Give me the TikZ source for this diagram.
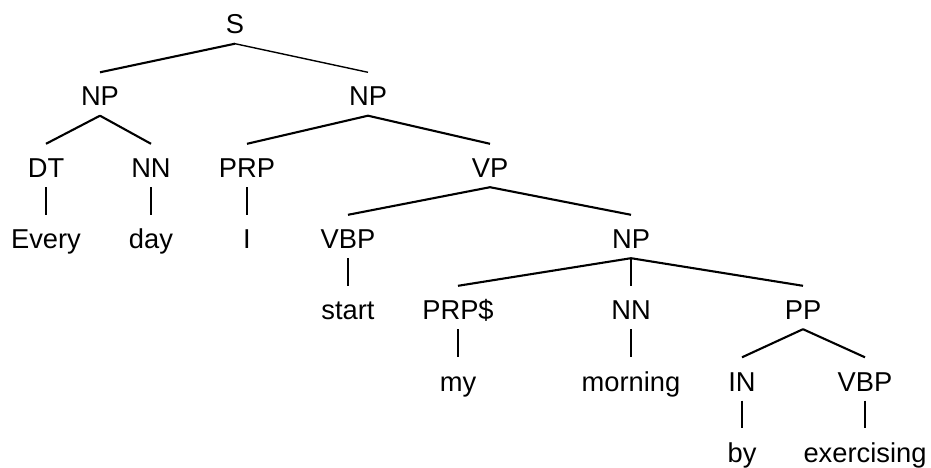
\documentclass[tikz,border=0pt]{standalone}
\usepackage{fontspec}
\setmainfont{Liberation Sans}
\begin{document}
\begin{tikzpicture}[x=1pt,y=1pt,
  tnode/.style={inner sep=0pt, text height=33.5pt, text depth=9.5pt, anchor=base,
    font=\fontsize{27.3}{30}\selectfont},
  edge/.style={line width=2.1pt, line cap=butt},
  thinedge/.style={line width=1.4pt, line cap=butt}]
\useasboundingbox (0,0) rectangle (931,-468);
% row baselines
\def\ra{-34}\def\rb{-106}\def\rc{-177.5}\def\rd{-248.5}\def\re{-319.5}\def\rf{-391}\def\rg{-462}
\node[tnode] (S) at (235,\ra) {S};
\node[tnode] (NPa) at (100,\rb) {NP};
\node[tnode] (NPb) at (368,\rb) {NP};
\node[tnode] (DT) at (46,\rc) {DT};
\node[tnode] (NNa) at (151,\rc) {NN};
\node[tnode] (PRP) at (247,\rc) {PRP};
\node[tnode] (VP) at (490,\rc) {VP};
\node[tnode] (Every) at (46,\rd) {Every};
\node[tnode] (day) at (151,\rd) {day};
\node[tnode] (I) at (247,\rd) {I};
\node[tnode] (VBPa) at (348,\rd) {VBP};
\node[tnode] (NPc) at (631,\rd) {NP};
\node[tnode] (start) at (348,\re) {start};
\node[tnode] (PRPS) at (458,\re) {PRP\$};
\node[tnode] (NNb) at (631,\re) {NN};
\node[tnode] (PP) at (803,\re) {PP};
\node[tnode] (my) at (458,\rf) {my};
\node[tnode] (morning) at (631,\rf) {morning};
\node[tnode] (IN) at (742,\rf) {IN};
\node[tnode] (VBPb) at (865,\rf) {VBP};
\node[tnode] (by) at (742,\rg) {by};
\node[tnode] (exercising) at (865,\rg) {exercising};
\draw[edge] (S.south) -- (NPa.north);
\draw[thinedge] (S.south) -- (NPb.north);
\draw[edge] (NPa.south) -- (DT.north);
\draw[edge] (NPa.south) -- (NNa.north);
\draw[edge] (NPb.south) -- (PRP.north);
\draw[edge] (NPb.south) -- (VP.north);
\draw[thinedge] (DT.south) -- (Every.north);
\draw[thinedge] (NNa.south) -- (day.north);
\draw[thinedge] (PRP.south) -- (I.north);
\draw[edge] (VP.south) -- (VBPa.north);
\draw[edge] (VP.south) -- (NPc.north);
\draw[thinedge] (VBPa.south) -- (start.north);
\draw[edge] (NPc.south) -- (PRPS.north);
\draw[thinedge] (NPc.south) -- (NNb.north);
\draw[edge] (NPc.south) -- (PP.north);
\draw[thinedge] (PRPS.south) -- (my.north);
\draw[thinedge] (NNb.south) -- (morning.north);
\draw[edge] (PP.south) -- (IN.north);
\draw[edge] (PP.south) -- (VBPb.north);
\draw[thinedge] (IN.south) -- (by.north);
\draw[thinedge] (VBPb.south) -- (exercising.north);
\end{tikzpicture}
\end{document}
